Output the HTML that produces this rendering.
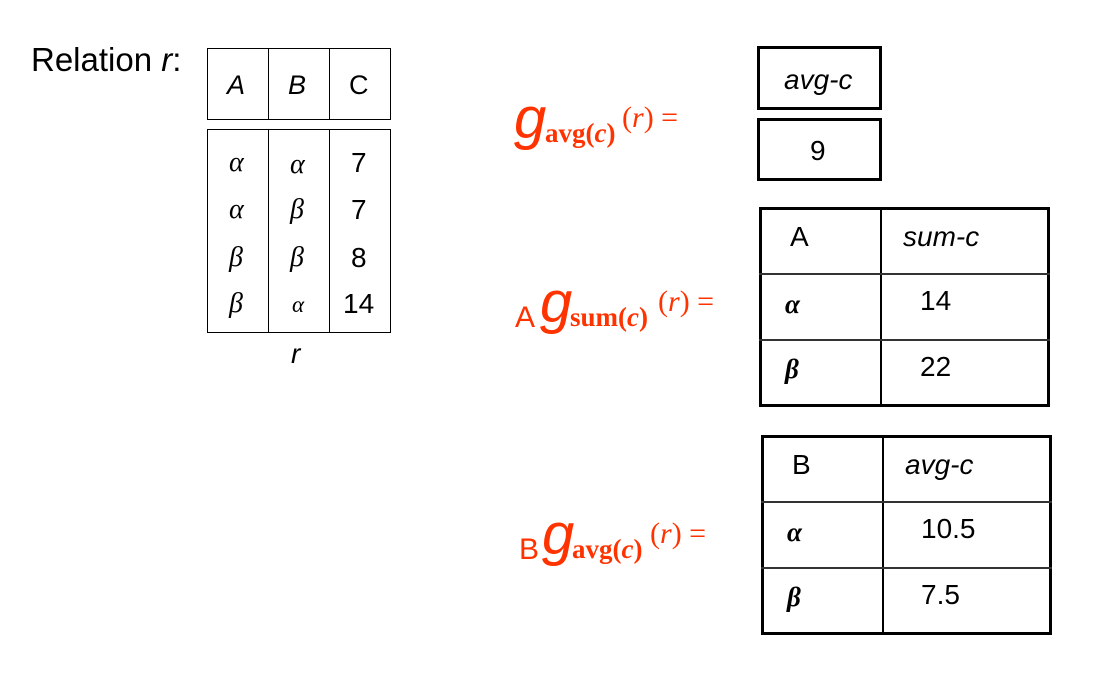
<!DOCTYPE html>
<html><head><style>
body{margin:0;width:1120px;height:673px;background:#fff;position:relative;overflow:hidden;font-family:"Liberation Sans",sans-serif;}
.a{position:absolute;white-space:nowrap;line-height:1;}
.bx{position:absolute;box-sizing:border-box;}
.r{color:#ff3300;}
.gs{font-family:"Liberation Serif",serif;}
.gk{font-family:"Liberation Serif",serif;font-style:italic;font-size:28px;}
.gkb{font-family:"Liberation Serif",serif;font-style:italic;font-weight:bold;font-size:27px;}
.G{font-size:58px;font-style:italic;}
.sub{font-size:27px;font-weight:bold;}
.par{font-size:30px;}
</style></head><body>
<div class="a" style="left:31px;top:43px;font-size:33px;">Relation <i>r</i>:</div>
<div class="bx" style="left:207px;top:48px;width:184px;height:72px;border:1px solid #000;"></div>
<div class="bx" style="left:207px;top:129px;width:184px;height:204px;border:1px solid #000;"></div>
<div class="bx" style="left:268px;top:48px;width:1px;height:72px;background:#000"></div>
<div class="bx" style="left:329px;top:48px;width:1px;height:72px;background:#000"></div>
<div class="bx" style="left:268px;top:129px;width:1px;height:204px;background:#000"></div>
<div class="bx" style="left:329px;top:129px;width:1px;height:204px;background:#000"></div>
<div class="a" style="left:227px;top:72px;font-size:27px;font-style:italic">A</div>
<div class="a" style="left:288px;top:72px;font-size:27px;font-style:italic">B</div>
<div class="a" style="left:349px;top:72px;font-size:27px;">C</div>
<div class="a gk" style="left:229px;top:149px">α</div><div class="a gk" style="left:290px;top:151px">α</div><div class="a" style="left:351px;top:149px;font-size:28px">7</div>
<div class="a gk" style="left:229px;top:196px">α</div><div class="a gk" style="left:290px;top:196px">β</div><div class="a" style="left:351px;top:196px;font-size:28px">7</div>
<div class="a gk" style="left:229px;top:244px">β</div><div class="a gk" style="left:290px;top:244px">β</div><div class="a" style="left:351px;top:244px;font-size:28px">8</div>
<div class="a gk" style="left:229px;top:290px">β</div><div class="a gk" style="left:292px;top:293px;font-size:23px">α</div><div class="a" style="left:343px;top:290px;font-size:28px">14</div>
<div class="a" style="left:291px;top:340px;font-size:28px;font-style:italic">r</div>

<div class="a r G" style="left:514px;top:90px">g</div>
<div class="a r gs sub" style="left:545px;top:120px">avg(<i>c</i>)</div>
<div class="a r gs par" style="left:622px;top:103px">(<i>r</i>) =</div>

<div class="a r" style="left:515px;top:303px;font-size:30px;">A</div>
<div class="a r G" style="left:540px;top:274px">g</div>
<div class="a r gs sub" style="left:570px;top:304px">sum(<i>c</i>)</div>
<div class="a r gs par" style="left:658px;top:287px">(<i>r</i>) =</div>

<div class="a r" style="left:519px;top:535px;font-size:30px;">B</div>
<div class="a r G" style="left:542px;top:506px">g</div>
<div class="a r gs sub" style="left:572px;top:536px">avg(<i>c</i>)</div>
<div class="a r gs par" style="left:650px;top:519px">(<i>r</i>) =</div>

<div class="bx" style="left:757px;top:46px;width:125px;height:64px;border:3px solid #000"></div>
<div class="a" style="left:784px;top:66px;font-size:28px;font-style:italic">avg-c</div>
<div class="bx" style="left:757px;top:118px;width:125px;height:63px;border:3px solid #000"></div>
<div class="a" style="left:810px;top:137px;font-size:28px">9</div>

<div class="bx" style="left:759px;top:207px;width:291px;height:200px;border:3px solid #000"></div>
<div class="bx" style="left:880px;top:207px;width:2px;height:200px;background:#000"></div>
<div class="bx" style="left:759px;top:273px;width:291px;height:2px;background:#333"></div>
<div class="bx" style="left:759px;top:339px;width:291px;height:2px;background:#333"></div>
<div class="a" style="left:790px;top:223px;font-size:28px">A</div>
<div class="a" style="left:903px;top:223px;font-size:28px;font-style:italic">sum-c</div>
<div class="a gkb" style="left:785px;top:291px">α</div>
<div class="a" style="left:920px;top:287px;font-size:28px">14</div>
<div class="a gkb" style="left:785px;top:356px">β</div>
<div class="a" style="left:920px;top:353px;font-size:28px">22</div>

<div class="bx" style="left:761px;top:435px;width:291px;height:200px;border:3px solid #000"></div>
<div class="bx" style="left:882px;top:435px;width:2px;height:200px;background:#000"></div>
<div class="bx" style="left:761px;top:501px;width:291px;height:2px;background:#333"></div>
<div class="bx" style="left:761px;top:567px;width:291px;height:2px;background:#333"></div>
<div class="a" style="left:792px;top:451px;font-size:28px">B</div>
<div class="a" style="left:905px;top:451px;font-size:28px;font-style:italic">avg-c</div>
<div class="a gkb" style="left:787px;top:519px">α</div>
<div class="a" style="left:921px;top:515px;font-size:28px">10.5</div>
<div class="a gkb" style="left:787px;top:584px">β</div>
<div class="a" style="left:921px;top:581px;font-size:28px">7.5</div>
</body></html>
